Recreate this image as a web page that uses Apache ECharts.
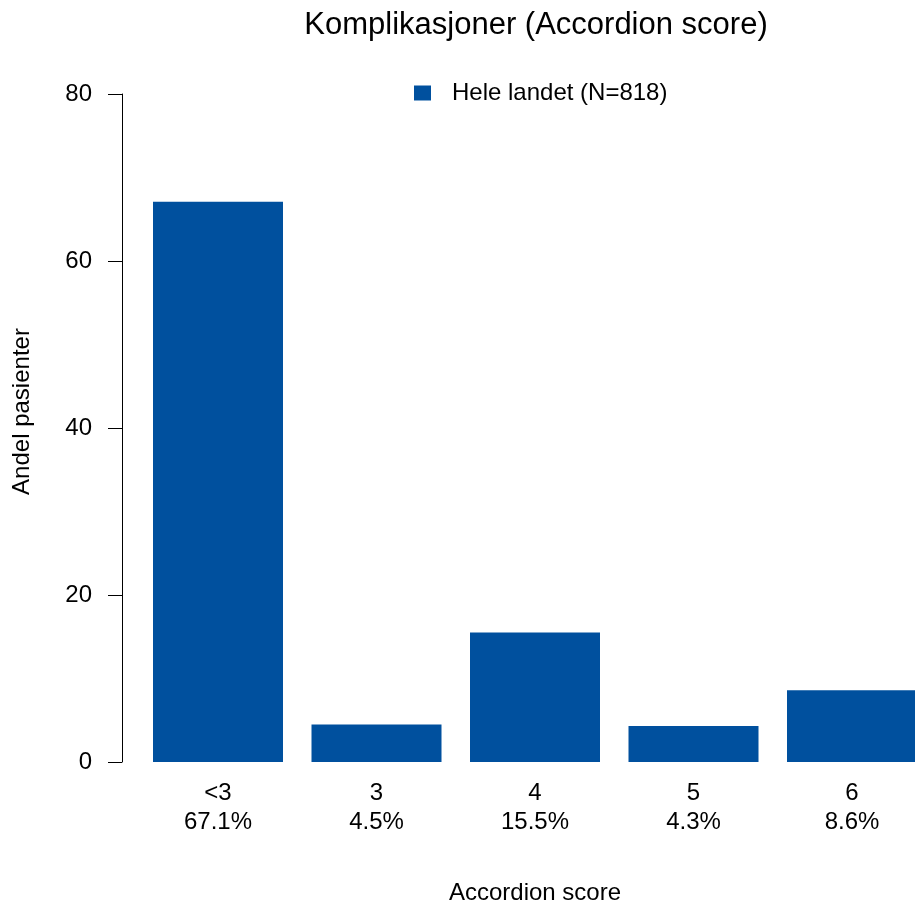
<!DOCTYPE html>
<html>
<head>
<meta charset="utf-8">
<script src="https://cdn.jsdelivr.net/npm/echarts@6/dist/echarts.min.js"></script>
<style>
  html, body { margin: 0; padding: 0; background: #ffffff; }
  #chart { width: 915px; height: 906px; }
</style>
</head>
<body>
<div id="chart"></div>
<script>
const categories = ['<3', '3', '4', '5', '6'];
const values = [67.1, 4.5, 15.5, 4.3, 8.6];
const percentLabels = ['67.1%', '4.5%', '15.5%', '4.3%', '8.6%'];
const yTicks = [0, 20, 40, 60, 80];
const seriesName = 'Hele landet (N=818)';
const titleText = 'Komplikasjoner (Accordion score)';
const xTitle = 'Accordion score';
const yTitle = 'Andel pasienter';

const FONT = '"Liberation Sans", Arial, Helvetica, sans-serif';
const BAR_COLOR = '#00509E';

const chart = echarts.init(document.getElementById('chart'), null, { renderer: 'canvas' });

chart.setOption({
  animation: false,
  backgroundColor: '#ffffff',
  textStyle: { fontFamily: FONT, color: '#000000' },
  title: {
    text: titleText,
    left: 531,
    textAlign: 'center',
    top: 5,
    textStyle: { fontFamily: FONT, fontSize: 31, fontWeight: 'normal', color: '#000000' }
  },
  legend: {
    data: [seriesName],
    left: 409,
    top: 76,
    icon: 'rect',
    itemWidth: 17,
    itemHeight: 15,
    textStyle: { fontFamily: FONT, fontSize: 24, color: '#000000', padding: [0, 0, 0, 16] }
  },
  grid: {
    left: 138.75,
    right: -16.25,
    top: 94,
    bottom: 144,
    containLabel: false,
    outerBoundsMode: 'none'
  },
  xAxis: {
    type: 'category',
    data: categories,
    boundaryGap: true,
    name: xTitle,
    nameLocation: 'middle',
    nameGap: 119,
    nameTextStyle: { fontFamily: FONT, fontSize: 24, color: '#000000' },
    axisLine: { show: false },
    axisTick: { show: false },
    splitLine: { show: false },
    axisLabel: {
      interval: 0,
      margin: 17,
      fontFamily: FONT,
      fontSize: 24,
      lineHeight: 29,
      color: '#000000',
      formatter: function (value, index) {
        return value + '\n' + percentLabels[index];
      }
    }
  },
  yAxis: {
    type: 'value',
    min: yTicks[0],
    max: yTicks[yTicks.length - 1],
    interval: yTicks[1] - yTicks[0],
    offset: 16.75,
    name: yTitle,
    nameLocation: 'middle',
    nameGap: 88,
    nameRotate: 90,
    nameTextStyle: { fontFamily: FONT, fontSize: 24, color: '#000000', padding: [0, 0, 0, 33] },
    axisLine: { show: true, lineStyle: { color: '#000000', width: 1 } },
    axisTick: { show: true, length: 14, inside: false, lineStyle: { color: '#000000', width: 1 } },
    splitLine: { show: false },
    axisLabel: {
      margin: 30,
      fontFamily: FONT,
      fontSize: 24,
      color: '#000000'
    }
  },
  series: [{
    name: seriesName,
    type: 'bar',
    data: values,
    barWidth: 130,
    itemStyle: { color: BAR_COLOR },
    emphasis: { disabled: true }
  }]
});
</script>
</body>
</html>
